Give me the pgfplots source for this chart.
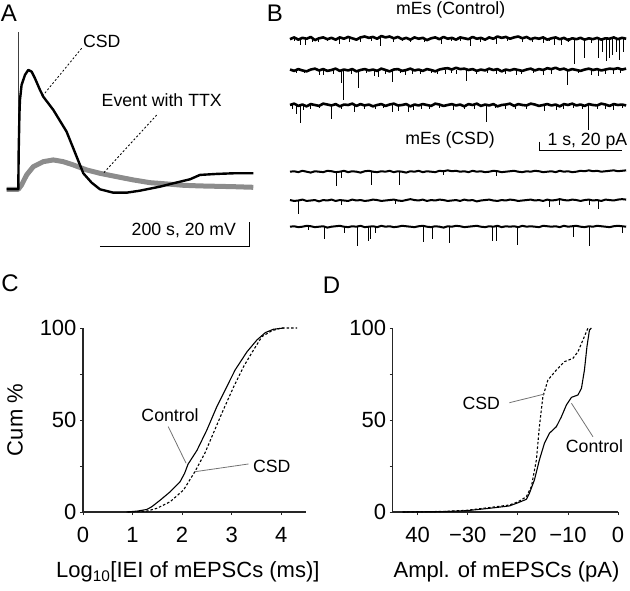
\documentclass[border=0pt]{standalone}
\usepackage{pgfplots}
\pgfplotsset{compat=1.18}
\usepackage{fontspec}
\setmainfont{Liberation Sans}
\newcommand\fs[1]{\fontsize{#1}{#1}\selectfont}
\pgfplotsset{
  btrace/.style={hide axis, scale only axis, anchor=south west, width=337pt, height=45pt,
    xmin=0, xmax=4.06, ymin=-80, ymax=20, clip=false},
  cumax/.style={scale only axis, anchor=south west, width=223pt, height=184pt,
    ymin=0, ymax=100, axis x line*=bottom, axis y line*=left,
    axis line style={line width=1.1pt, -, black!85},
    ytick={0,25,50,75,100}, yticklabels={0,,50,,100},
    tick style={line width=0.8pt, black!85}, major tick length=3pt, tick align=outside,
    tick label style={font=\fs{22}}, label style={font=\fs{22}},
    xticklabel style={yshift=-9pt},
    /pgf/number format/assume math mode=true, clip=false},
}
\begin{document}
\begin{tikzpicture}
\useasboundingbox (0pt,0pt) rectangle (630pt,590pt);
% panel letters and titles
\node[font=\fs{24}] at (9pt,577pt) {A};
\node[font=\fs{24}] at (275pt,577pt) {B};
\node[font=\fs{24}] at (10pt,307pt) {C};
\node[font=\fs{24}] at (331.5pt,305pt) {D};
\node[font=\fs{17.7}] at (450.7pt,580pt) {mEs (Control)};
\node[font=\fs{17.7}] at (450pt,450pt) {mEs (CSD)};

% ---------------- A ----------------
\begin{axis}[hide axis, scale only axis, anchor=south west, at={(6.3pt,340.7pt)},
  width=252pt, height=222.5pt, xmin=-16, xmax=320, ymin=-48, ymax=130, clip=false]
\addplot[black!75, line width=0.9pt] coordinates {(0,0)(0,126)};
\addplot[black!45, line width=5pt, line join=round] coordinates {
(-15.6,0)(0,0)(4.4,3.5)(11.1,11.5)(20,18.1)(33.3,22.1)(46.7,23.5)(60,22.1)(73.3,19.5)
(91.1,15.5)(108.9,12.8)(131.1,10.1)(153.3,7.5)(175.6,5.3)(197.8,4.3)(220,3.2)(242.2,2.7)
(286.7,2.1)(313.3,1.6)};
\addplot[black, line width=2.4pt, line join=round] coordinates {
(-15.6,0)(0,0)(0.5,30)(1.5,60)(2.2,71.5)(4.4,83.5)(8.9,91.5)(13.3,95.5)(17.8,94.1)
(22.2,88.8)(28.9,79.5)(33.3,74.1)(46.7,63.5)(64.4,46.1)(77.8,26.1)(86.7,12.8)(97.8,5.3)
(108.9,0)(126.7,-2.7)(144.4,-2.7)(162.2,-1.1)(188.9,2.1)(206.7,4.8)(228.9,8)(242.2,11.5)
(264.4,12.3)(286.7,12.8)(313.3,12.8)};
% scale bar
\addplot[black, line width=1pt] coordinates {(108.9,-45.9)(308.9,-45.9)(308.9,-25.9)};
\node[font=\fs{17.7}, anchor=east] at (axis cs:295,-32.6) {200 s, 20 mV};
\node[font=\fs{17.7}] at (axis cs:111.2,118.1) {CSD};
\draw[black, line width=0.8pt, dash pattern=on 2pt off 2pt] (axis cs:84.5,112.8) -- (axis cs:33.3,75.4);
\node[font=\fs{17.7}] at (axis cs:191.2,71.4) {Event with TTX};
\draw[black, line width=0.8pt, dash pattern=on 2pt off 2pt] (axis cs:184.5,59.4) -- (axis cs:113.3,12.8);
\end{axis}

% ---------------- B: control traces ----------------
\begin{axis}[btrace, at={(290pt,515.7pt)}]
\addplot[black, line width=2.6pt, line join=round] coordinates {
(0.00,-2)(0.05,2)(0.10,-3)(0.15,1)(0.20,-1)(0.25,3)(0.30,-4)(0.35,0)(0.40,2)(0.45,-2)
(0.50,1)(0.55,-3)(0.60,2)(0.65,-1)(0.70,3)(0.75,0)(0.80,-3)(0.85,2)(0.90,4)(0.95,1)
(1.00,3)(1.05,-1)(1.10,5)(1.15,2)(1.20,4)(1.25,0)(1.30,3)(1.35,-2)(1.40,1)(1.45,-3)
(1.50,2)(1.55,-1)(1.60,1)(1.65,-4)(1.70,0)(1.75,2)(1.80,-2)(1.85,3)(1.90,-1)(1.95,1)
(2.00,-3)(2.05,2)(2.10,0)(2.15,-2)(2.20,3)(2.25,-1)(2.30,1)(2.35,-3)(2.40,2)(2.45,-1)
(2.50,4)(2.55,1)(2.60,3)(2.65,-1)(2.70,2)(2.75,4)(2.80,0)(2.85,3)(2.90,-2)(2.95,1)
(3.00,-1)(3.05,2)(3.10,-3)(3.15,0)(3.20,2)(3.25,-2)(3.30,1)(3.35,-4)(3.40,0)(3.45,-2)
(3.50,1)(3.55,-3)(3.60,0)(3.65,-2)(3.70,1)(3.75,-3)(3.80,0)(3.85,-1)(3.90,2)(3.95,-2)
(4.00,1)(4.05,-1)};
\addplot[black, line width=0.9pt, unbounded coords=jump] coordinates {
(0.12,0)(0.12,-15)(0.12,nan)(0.19,0)(0.19,-14)(0.19,nan)(0.34,0)(0.34,-8)(0.34,nan)
(0.60,0)(0.60,-12)(0.60,nan)(0.85,0)(0.85,-9)(0.85,nan)(1.09,0)(1.09,-17)(1.09,nan)
(1.45,0)(1.45,-8)(1.45,nan)(1.83,0)(1.83,-12)(1.83,nan)(2.17,0)(2.17,-17)(2.17,nan)
(2.49,0)(2.49,-13)(2.49,nan)(2.80,0)(2.80,-9)(2.80,nan)(3.05,0)(3.05,-10)(3.05,nan)
(3.19,0)(3.19,-16)(3.19,nan)(3.27,0)(3.27,-14)(3.27,nan)(3.43,0)(3.43,-58)(3.43,nan)
(3.55,0)(3.55,-44)(3.55,nan)(3.71,0)(3.71,-44)(3.71,nan)(3.76,0)(3.76,-30)(3.76,nan)
(3.81,0)(3.81,-50)(3.81,nan)(3.85,0)(3.85,-44)(3.85,nan)(3.89,0)(3.89,-38)(3.89,nan)
(3.93,0)(3.93,-30)(3.93,nan)(3.97,0)(3.97,-48)(3.97,nan)(4.02,0)(4.02,-30)(4.02,nan)
(0.05,0)(0.05,-7)(0.05,nan)(0.27,0)(0.27,-8)(0.27,nan)(0.45,0)(0.45,-6)(0.45,nan)
(0.72,0)(0.72,-9)(0.72,nan)(0.98,0)(0.98,-7)(0.98,nan)(1.25,0)(1.25,-8)(1.25,nan)
(1.35,0)(1.35,-6)(1.35,nan)(1.62,0)(1.62,-9)(1.62,nan)(1.95,0)(1.95,-7)(1.95,nan)
(2.05,0)(2.05,-6)(2.05,nan)(2.30,0)(2.30,-8)(2.30,nan)(2.62,0)(2.62,-7)(2.62,nan)
(2.92,0)(2.92,-9)(2.92,nan)(3.12,0)(3.12,-7)(3.12,nan)(3.36,0)(3.36,-8)(3.36,nan)
(3.63,0)(3.63,-10)};
\end{axis}

\begin{axis}[btrace, at={(290pt,484pt)}]
\addplot[black, line width=2.6pt, line join=round] coordinates {
(0.00,1)(0.05,-2)(0.10,2)(0.15,-1)(0.20,-3)(0.25,1)(0.30,3)(0.35,-1)(0.40,2)(0.45,-2)
(0.50,0)(0.55,3)(0.60,-2)(0.65,1)(0.70,-1)(0.75,2)(0.80,-3)(0.85,0)(0.90,2)(0.95,-1)
(1.00,1)(1.05,-2)(1.10,3)(1.15,0)(1.20,-3)(1.25,1)(1.30,2)(1.35,-2)(1.40,0)(1.45,3)
(1.50,-1)(1.55,1)(1.60,-2)(1.65,2)(1.70,0)(1.75,-3)(1.80,1)(1.85,3)(1.90,4)(1.95,1)
(2.00,5)(2.05,2)(2.10,3)(2.15,0)(2.20,2)(2.25,-2)(2.30,1)(2.35,-1)(2.40,3)(2.45,0)
(2.50,2)(2.55,-3)(2.60,1)(2.65,-1)(2.70,2)(2.75,0)(2.80,-2)(2.85,1)(2.90,3)(2.95,-1)
(3.00,2)(3.05,0)(3.10,4)(3.15,2)(3.20,5)(3.25,1)(3.30,3)(3.35,-1)(3.40,2)(3.45,0)
(3.50,-2)(3.55,1)(3.60,3)(3.65,0)(3.70,2)(3.75,-1)(3.80,1)(3.85,3)(3.90,2)(3.95,4)
(4.00,1)(4.05,3)};
\addplot[black, line width=0.9pt, unbounded coords=jump] coordinates {
(0.36,0)(0.36,-11)(0.36,nan)(0.40,0)(0.40,-12)(0.40,nan)(0.62,0)(0.62,-30)(0.62,nan)
(0.64,0)(0.64,-66)(0.64,nan)(0.83,0)(0.83,-41)(0.83,nan)(1.02,0)(1.02,-14)(1.02,nan)
(1.06,0)(1.06,-16)(1.06,nan)(1.24,0)(1.24,-26)(1.24,nan)(1.39,0)(1.39,-12)(1.39,nan)
(1.57,0)(1.57,-10)(1.57,nan)(1.87,0)(1.87,-10)(1.87,nan)(2.01,0)(2.01,-10)(2.01,nan)
(2.13,0)(2.13,-24)(2.13,nan)(2.49,0)(2.49,-10)(2.49,nan)(2.73,0)(2.73,-12)(2.73,nan)
(2.79,0)(2.79,-10)(2.79,nan)(3.05,0)(3.05,-12)(3.05,nan)(3.34,0)(3.34,-33)(3.34,nan)
(3.63,0)(3.63,-12)(3.63,nan)(3.71,0)(3.71,-14)(3.71,nan)(3.90,0)(3.90,-10)(3.90,nan)
(0.08,0)(0.08,-7)(0.08,nan)(0.18,0)(0.18,-6)(0.18,nan)(0.52,0)(0.52,-8)(0.52,nan)
(0.74,0)(0.74,-9)(0.74,nan)(0.92,0)(0.92,-7)(0.92,nan)(1.15,0)(1.15,-8)(1.15,nan)
(1.33,0)(1.33,-6)(1.33,nan)(1.48,0)(1.48,-9)(1.48,nan)(1.70,0)(1.70,-7)(1.70,nan)
(1.78,0)(1.78,-8)(1.78,nan)(1.95,0)(1.95,-6)(1.95,nan)(2.25,0)(2.25,-8)(2.25,nan)
(2.38,0)(2.38,-7)(2.38,nan)(2.60,0)(2.60,-9)(2.60,nan)(2.93,0)(2.93,-7)(2.93,nan)
(3.15,0)(3.15,-8)(3.15,nan)(3.48,0)(3.48,-7)(3.48,nan)(3.80,0)(3.80,-9)(3.80,nan)
(3.98,0)(3.98,-7)};
\end{axis}

\begin{axis}[btrace, at={(290pt,449pt)}]
\addplot[black, line width=2.6pt, line join=round] coordinates {
(0.00,0)(0.05,3)(0.10,-2)(0.15,1)(0.20,-3)(0.25,2)(0.30,0)(0.35,-2)(0.40,3)(0.45,1)
(0.50,-1)(0.55,2)(0.60,-3)(0.65,1)(0.70,0)(0.75,3)(0.80,-2)(0.85,2)(0.90,-1)(0.95,1)
(1.00,-3)(1.05,0)(1.10,2)(1.15,-2)(1.20,1)(1.25,3)(1.30,-1)(1.35,0)(1.40,2)(1.45,-3)
(1.50,1)(1.55,-1)(1.60,2)(1.65,0)(1.70,-2)(1.75,3)(1.80,1)(1.85,-2)(1.90,0)(1.95,2)
(2.00,-1)(2.05,1)(2.10,-3)(2.15,2)(2.20,0)(2.25,3)(2.30,-2)(2.35,1)(2.40,-1)(2.45,2)
(2.50,-3)(2.55,0)(2.60,1)(2.65,3)(2.70,-2)(2.75,2)(2.80,0)(2.85,-1)(2.90,3)(2.95,1)
(3.00,-2)(3.05,0)(3.10,2)(3.15,-1)(3.20,1)(3.25,-3)(3.30,2)(3.35,0)(3.40,3)(3.45,-1)
(3.50,1)(3.55,-2)(3.60,2)(3.65,0)(3.70,-1)(3.75,3)(3.80,1)(3.85,-2)(3.90,2)(3.95,0)
(4.00,1)(4.05,-1)};
\addplot[black, line width=0.9pt, unbounded coords=jump] coordinates {
(0.08,0)(0.08,-20)(0.08,nan)(0.12,0)(0.12,-40)(0.12,nan)(0.16,0)(0.16,-12)(0.16,nan)
(0.50,0)(0.50,-32)(0.50,nan)(0.78,0)(0.78,-16)(0.78,nan)(1.03,0)(1.03,-10)(1.03,nan)
(1.23,0)(1.23,-16)(1.23,nan)(1.31,0)(1.31,-14)(1.31,nan)(1.43,0)(1.43,-16)(1.43,nan)
(1.49,0)(1.49,-12)(1.49,nan)(1.97,0)(1.97,-12)(1.97,nan)(2.37,0)(2.37,-38)(2.37,nan)
(2.60,0)(2.60,-10)(2.60,nan)(3.07,0)(3.07,-14)(3.07,nan)(3.21,0)(3.21,-12)(3.21,nan)
(3.52,0)(3.52,-10)(3.52,nan)(3.60,0)(3.60,-55)(3.60,nan)(3.90,0)(3.90,-12)(3.90,nan)
(0.03,0)(0.03,-8)(0.03,nan)(0.25,0)(0.25,-9)(0.25,nan)(0.35,0)(0.35,-7)(0.35,nan)
(0.62,0)(0.62,-8)(0.62,nan)(0.90,0)(0.90,-9)(0.90,nan)(1.12,0)(1.12,-7)(1.12,nan)
(1.58,0)(1.58,-8)(1.58,nan)(1.68,0)(1.68,-10)(1.68,nan)(1.80,0)(1.80,-7)(1.80,nan)
(2.10,0)(2.10,-8)(2.10,nan)(2.22,0)(2.22,-9)(2.22,nan)(2.48,0)(2.48,-7)(2.48,nan)
(2.72,0)(2.72,-8)(2.72,nan)(2.85,0)(2.85,-9)(2.85,nan)(3.30,0)(3.30,-8)(3.30,nan)
(3.42,0)(3.42,-7)(3.42,nan)(3.70,0)(3.70,-9)(3.70,nan)(3.80,0)(3.80,-8)(3.80,nan)
(4.00,0)(4.00,-7)};
% scale bar
\addplot[black, line width=1pt] coordinates {(3.0,-81.6)(3.0,-101.6)(4.0,-101.6)};
\node[font=\fs{17.7}, anchor=base west] at (axis cs:3.06,-91) {1 s, 20 pA};
\end{axis}

% ---------------- B: CSD traces ----------------
\begin{axis}[btrace, at={(290pt,382.3pt)}]
\addplot[black, line width=2pt, line join=round] coordinates {
(0.00,0)(0.05,1)(0.10,-1)(0.15,2)(0.20,0)(0.25,-2)(0.30,1)(0.35,0)(0.40,-1)(0.45,2)
(0.50,1)(0.55,-1)(0.60,0)(0.65,2)(0.70,-1)(0.75,1)(0.80,0)(0.85,-2)(0.90,1)(0.95,2)
(1.00,0)(1.05,-1)(1.10,1)(1.15,0)(1.20,2)(1.25,-1)(1.30,1)(1.35,0)(1.40,-2)(1.45,1)
(1.50,0)(1.55,2)(1.60,-1)(1.65,1)(1.70,0)(1.75,-1)(1.80,2)(1.85,1)(1.90,3)(1.95,1)
(2.00,2)(2.05,0)(2.10,1)(2.15,-1)(2.20,2)(2.25,0)(2.30,1)(2.35,-1)(2.40,0)(2.45,2)
(2.50,1)(2.55,-1)(2.60,0)(2.65,1)(2.70,2)(2.75,0)(2.80,-1)(2.85,1)(2.90,0)(2.95,2)
(3.00,1)(3.05,-1)(3.10,0)(3.15,1)(3.20,-1)(3.25,2)(3.30,0)(3.35,1)(3.40,-1)(3.45,0)
(3.50,2)(3.55,1)(3.60,3)(3.65,1)(3.70,2)(3.75,0)(3.80,1)(3.85,2)(3.90,3)(3.95,1)
(4.00,2)(4.05,3)};
\addplot[black, line width=0.9pt, unbounded coords=jump] coordinates {
(0.56,0)(0.56,-31)(0.56,nan)(0.62,0)(0.62,-15)(0.62,nan)(0.98,0)(0.98,-29)(0.98,nan)
(1.32,0)(1.32,-29)(1.32,nan)(1.85,0)(1.85,-8)(1.85,nan)(2.49,0)(2.49,-9)};
\end{axis}

\begin{axis}[btrace, at={(290pt,353.5pt)}]
\addplot[black, line width=2pt, line join=round] coordinates {
(0.00,1)(0.05,-1)(0.10,0)(0.15,2)(0.20,-1)(0.25,0)(0.30,1)(0.35,-2)(0.40,1)(0.45,0)
(0.50,2)(0.55,-1)(0.60,1)(0.65,0)(0.70,-1)(0.75,2)(0.80,0)(0.85,1)(0.90,-1)(0.95,0)
(1.00,2)(1.05,1)(1.10,-1)(1.15,0)(1.20,1)(1.25,2)(1.30,0)(1.35,-1)(1.40,1)(1.45,3)
(1.50,1)(1.55,0)(1.60,2)(1.65,-1)(1.70,1)(1.75,0)(1.80,2)(1.85,1)(1.90,-1)(1.95,0)
(2.00,1)(2.05,-1)(2.10,2)(2.15,0)(2.20,1)(2.25,-2)(2.30,0)(2.35,1)(2.40,2)(2.45,0)
(2.50,-1)(2.55,1)(2.60,0)(2.65,2)(2.70,1)(2.75,-1)(2.80,0)(2.85,1)(2.90,2)(2.95,0)
(3.00,1)(3.05,-1)(3.10,2)(3.15,0)(3.20,1)(3.25,3)(3.30,1)(3.35,0)(3.40,2)(3.45,1)
(3.50,-1)(3.55,1)(3.60,2)(3.65,0)(3.70,1)(3.75,-1)(3.80,2)(3.85,1)(3.90,0)(3.95,2)
(4.00,3)(4.05,2)};
\addplot[black, line width=0.9pt, unbounded coords=jump] coordinates {
(0.10,0)(0.10,-30)(0.10,nan)(0.62,0)(0.62,-10)(0.62,nan)(1.27,0)(1.27,-8)(1.27,nan)
(3.13,0)(3.13,-15)(3.13,nan)(3.25,0)(3.25,-9)(3.25,nan)(3.61,0)(3.61,-9)(3.61,nan)
(3.72,0)(3.72,-18)};
\end{axis}

\begin{axis}[btrace, at={(290pt,327.3pt)}]
\addplot[black, line width=2pt, line join=round] coordinates {
(0.00,0)(0.05,1)(0.10,-1)(0.15,0)(0.20,2)(0.25,1)(0.30,-1)(0.35,0)(0.40,1)(0.45,-2)
(0.50,0)(0.55,1)(0.60,2)(0.65,0)(0.70,-1)(0.75,1)(0.80,0)(0.85,2)(0.90,-1)(0.95,0)
(1.00,1)(1.05,-1)(1.10,2)(1.15,0)(1.20,1)(1.25,-1)(1.30,0)(1.35,2)(1.40,1)(1.45,0)
(1.50,-1)(1.55,1)(1.60,2)(1.65,0)(1.70,-1)(1.75,1)(1.80,0)(1.85,-2)(1.90,1)(1.95,0)
(2.00,2)(2.05,1)(2.10,-1)(2.15,0)(2.20,1)(2.25,2)(2.30,0)(2.35,-1)(2.40,1)(2.45,0)
(2.50,2)(2.55,-1)(2.60,1)(2.65,0)(2.70,1)(2.75,-1)(2.80,2)(2.85,0)(2.90,1)(2.95,0)
(3.00,-1)(3.05,2)(3.10,1)(3.15,0)(3.20,1)(3.25,-1)(3.30,2)(3.35,0)(3.40,1)(3.45,2)
(3.50,0)(3.55,-1)(3.60,1)(3.65,0)(3.70,2)(3.75,1)(3.80,0)(3.85,-1)(3.90,1)(3.95,2)
(4.00,1)(4.05,0)};
\addplot[black, line width=0.9pt, unbounded coords=jump] coordinates {
(0.22,0)(0.22,-8)(0.22,nan)(0.42,0)(0.42,-27)(0.42,nan)(0.65,0)(0.65,-13)(0.65,nan)
(0.81,0)(0.81,-44)(0.81,nan)(0.95,0)(0.95,-31)(0.95,nan)(0.97,0)(0.97,-28)(0.97,nan)
(1.03,0)(1.03,-13)(1.03,nan)(1.61,0)(1.61,-35)(1.61,nan)(1.72,0)(1.72,-27)(1.72,nan)
(1.92,0)(1.92,-37)(1.92,nan)(2.44,0)(2.44,-31)(2.44,nan)(2.49,0)(2.49,-31)(2.49,nan)
(2.74,0)(2.74,-40)(2.74,nan)(3.41,0)(3.41,-24)(3.41,nan)(3.61,0)(3.61,-44)(3.61,nan)
(4.00,0)(4.00,-13)};
\end{axis}

% ---------------- C ----------------
\begin{axis}[cumax, at={(83pt,78pt)}, xmin=0, xmax=4.5, xtick={0,1,2,3,4},
  xlabel={Log\textsubscript{10}[IEI of mEPSCs (ms)]}, ylabel={Cum \%},
  xlabel style={at={(axis description cs:0.47,-0.326)}, anchor=center},
  ylabel style={at={(axis description cs:-0.305,0.5)}, anchor=center}]
\addplot[black, line width=1.1pt] coordinates {
(0.88,0)(1.1,0.5)(1.29,1.4)(1.39,2.9)(1.56,6.5)(1.76,11)(1.96,16.5)(2.05,21)(2.12,26)(2.30,33.5)
(2.50,44.6)(2.70,57.2)(2.90,68)(3.07,77.2)(3.31,87.1)(3.51,93.5)(3.68,97.5)(3.84,99.3)(4.05,100)};
\addplot[black, line width=1.1pt, dash pattern=on 2.5pt off 2pt] coordinates {
(0.91,0)(1.29,0.5)(1.49,2)(1.76,5.6)(2.03,12)(2.26,22)(2.46,32)(2.63,42.8)(2.83,55.4)
(3.04,68)(3.24,79)(3.44,88)(3.61,95.3)(3.81,98.5)(4.0,100)(4.32,100)};
\node[font=\fs{17.7}] at (axis cs:1.756,52.7) {Control};
\draw[black!55, line width=0.8pt] (axis cs:1.72,46.4) -- (axis cs:2.08,26.5);
\node[font=\fs{17.7}] at (axis cs:3.81,24.6) {CSD};
\draw[black!55, line width=0.8pt] (axis cs:2.26,21.9) -- (axis cs:3.34,26.1);
\end{axis}

% ---------------- D ----------------
\begin{axis}[cumax, at={(392.7pt,78pt)}, width=225.3pt, xmin=-45, xmax=0,
  xtick={-40,-30,-20,-10,0}, xticklabels={40,−30,−20,−10,0},
  xlabel={Ampl. of mEPSCs (pA)},
  xlabel style={at={(axis description cs:0.505,-0.326)}, anchor=center}]
\addplot[black, line width=1.1pt] coordinates {
(-43,0)(-35,0.2)(-30.3,0.7)(-25.7,2)(-21.7,3.3)(-20,5)(-18.3,6.9)(-17.7,10.1)(-16.7,17.4)
(-15.7,28.3)(-14.7,37.3)(-13.7,42.8)(-12.3,46.4)(-11.3,51.8)(-10.3,58.2)(-9.3,62.3)(-8,63.6)
(-7.3,67.2)(-6.7,77.2)(-6.2,89.9)(-5.7,98.9)(-5.3,100)};
\addplot[black, line width=1.1pt, dash pattern=on 2.5pt off 2pt] coordinates {
(-43,0)(-35,0.3)(-30.3,0.9)(-25.7,2.4)(-21.7,3.8)(-20,5.5)(-18.3,8.3)(-17.3,13.8)(-16.3,28.3)
(-15.7,46.4)(-15,62.7)(-14,71.7)(-12.3,77.2)(-10.7,81.7)(-9,83.5)(-8,87.1)(-7,93.5)(-6,100)};
\node[font=\fs{17.7}] at (axis cs:-27.3,59.1) {CSD};
\draw[black!55, line width=0.8pt] (axis cs:-21.7,59.4) -- (axis cs:-14.7,64.1);
\node[font=\fs{17.7}] at (axis cs:-4.7,35.9) {Control};
\draw[black!55, line width=0.8pt] (axis cs:-9.3,59.1) -- (axis cs:-5,40.9);
\end{axis}
\end{tikzpicture}
\end{document}
